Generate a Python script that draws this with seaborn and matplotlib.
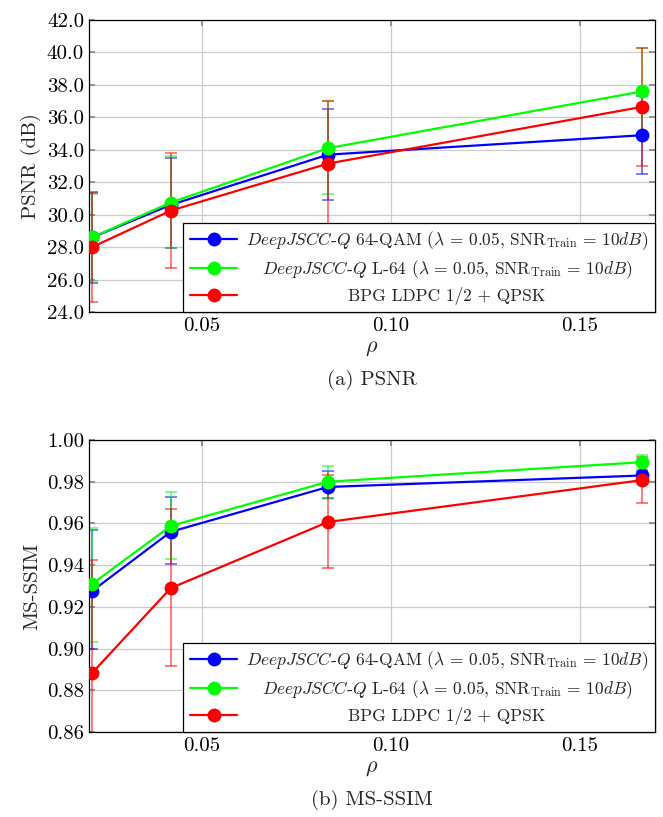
import numpy as np
import pandas as pd
import matplotlib
matplotlib.use("Agg")
import matplotlib.pyplot as plt
import seaborn as sns
from matplotlib.ticker import FormatStrFormatter, MultipleLocator

# data
rho = [1 / 48, 1 / 24, 1 / 12, 1 / 6]

labels = [
    r"$\mathit{DeepJSCC}$-$\mathit{Q}$ 64-QAM ($\lambda\,=\,0.05$, $\mathrm{SNR}_{\mathrm{Train}}\,=\,10dB$)",
    r"$\mathit{DeepJSCC}$-$\mathit{Q}$ L-64 ($\lambda\,=\,0.05$, $\mathrm{SNR}_{\mathrm{Train}}\,=\,10dB$)",
    "BPG LDPC 1/2 + QPSK",
]
colors = ["#0000ff", "#00ff00", "#ff0000"]

psnr_qam = [28.6, 30.6, 33.7, 34.9]
psnr_qam_lo = [25.8, 27.95, 30.9, 32.5]
psnr_qam_hi = [31.4, 33.5, 36.5, 37.3]
psnr_l64 = [28.6, 30.75, 34.1, 37.6]
psnr_l64_lo = [25.9, 27.95, 31.3, 34.9]
psnr_l64_hi = [31.3, 33.6, 37.0, 40.3]
psnr_bpg = [28.0, 30.25, 33.15, 36.65]
psnr_bpg_lo = [24.6, 26.7, 29.4, 33.0]
psnr_bpg_hi = [31.35, 33.8, 37.0, 40.3]

ssim_qam = [0.9276, 0.956, 0.9775, 0.983]
ssim_qam_lo = [0.900, 0.9405, 0.972, 0.981]
ssim_qam_hi = [0.957, 0.9727, 0.985, 0.985]
ssim_l64 = [0.931, 0.9588, 0.980, 0.9894]
ssim_l64_lo = [0.903, 0.943, 0.9717, 0.986]
ssim_l64_hi = [0.958, 0.975, 0.9875, 0.993]
ssim_bpg = [0.8883, 0.929, 0.9607, 0.9808]
ssim_bpg_lo = [0.835, 0.8916, 0.9386, 0.970]
ssim_bpg_hi = [0.9424, 0.967, 0.983, 0.992]

sns.set_theme(style="whitegrid")
plt.rcParams["font.family"] = ["cmr10", "DejaVu Serif"]
plt.rcParams["mathtext.fontset"] = "cm"
plt.rcParams["axes.formatter.use_mathtext"] = True
plt.rcParams["axes.unicode_minus"] = False


def make_df(series):
    rows = []
    for lab, vals in zip(labels, series):
        for x, y in zip(rho, vals):
            rows.append({"rho": x, "val": y, "method": lab})
    return pd.DataFrame(rows)


def draw(ax, series, lows, highs, ylim, ystep, fmt, ylabel):
    for vals, lo, hi, c in zip(series, lows, highs, colors):
        vals = np.array(vals)
        err = [vals - np.array(lo), np.array(hi) - vals]
        ax.errorbar(rho, vals, yerr=err, fmt="none", ecolor=c, elinewidth=1.1,
                    capsize=4, capthick=1.1, alpha=0.65, zorder=2)
    df = make_df(series)
    sns.lineplot(data=df, x="rho", y="val", hue="method", palette=colors,
                 marker="o", markersize=10, markeredgewidth=0, linewidth=1.6,
                 ax=ax, zorder=3)
    ax.set_xlim(0.02, 0.17)
    ax.set_ylim(*ylim)
    ax.xaxis.set_major_locator(MultipleLocator(0.05))
    ax.yaxis.set_major_locator(MultipleLocator(ystep))
    ax.xaxis.set_major_formatter(FormatStrFormatter("%.2f"))
    ax.yaxis.set_major_formatter(FormatStrFormatter(fmt))
    ax.grid(True, color="#cccccc", linewidth=0.9)
    for s in ax.spines.values():
        s.set_color("black")
        s.set_linewidth(0.9)
    ax.tick_params(axis="both", labelsize=15, colors="black", direction="in",
                   length=4, color="#888888", left=True, bottom=True,
                   right=True, top=True)
    ax.set_xlabel(r"$\rho$", fontsize=16, labelpad=3)
    ax.set_ylabel(ylabel, fontsize=15, labelpad=4)
    leg = ax.legend(loc="lower right", borderaxespad=0, fontsize=12.5,
                    handlelength=2.7, handletextpad=0.5, labelspacing=0.35,
                    fancybox=False, framealpha=1, edgecolor="black",
                    borderpad=0.4)
    leg.get_frame().set_linewidth(0.9)
    return leg


fig = plt.figure(figsize=(6.63, 8.17), dpi=100)
ax1 = fig.add_axes([0.1342, 0.6181, 0.8537, 0.3574])
ax2 = fig.add_axes([0.1342, 0.104, 0.8537, 0.3574])

leg1 = draw(ax1, [psnr_qam, psnr_l64, psnr_bpg], [psnr_qam_lo, psnr_l64_lo, psnr_bpg_lo],
            [psnr_qam_hi, psnr_l64_hi, psnr_bpg_hi], (24, 42), 2, "%.1f", "PSNR (dB)")
leg2 = draw(ax2, [ssim_qam, ssim_l64, ssim_bpg], [ssim_qam_lo, ssim_l64_lo, ssim_bpg_lo],
            [ssim_qam_hi, ssim_l64_hi, ssim_bpg_hi], (0.86, 1.0), 0.02, "%.2f", "MS-SSIM")

fig.text(0.561, 1 - 380 / 817, "(a) PSNR", ha="center", va="center", fontsize=15)
fig.text(0.561, 1 - 800 / 817, "(b) MS-SSIM", ha="center", va="center", fontsize=15)

# centre the legend entries like the original
fig.canvas.draw()
for leg in (leg1, leg2):
    texts = leg.get_texts()
    widths = [t.get_window_extent().width for t in texts]
    wmax = max(widths)
    for t, w in zip(texts, widths):
        t.set_x((wmax - w) / 2)

fig.savefig("out.png", dpi=100)
